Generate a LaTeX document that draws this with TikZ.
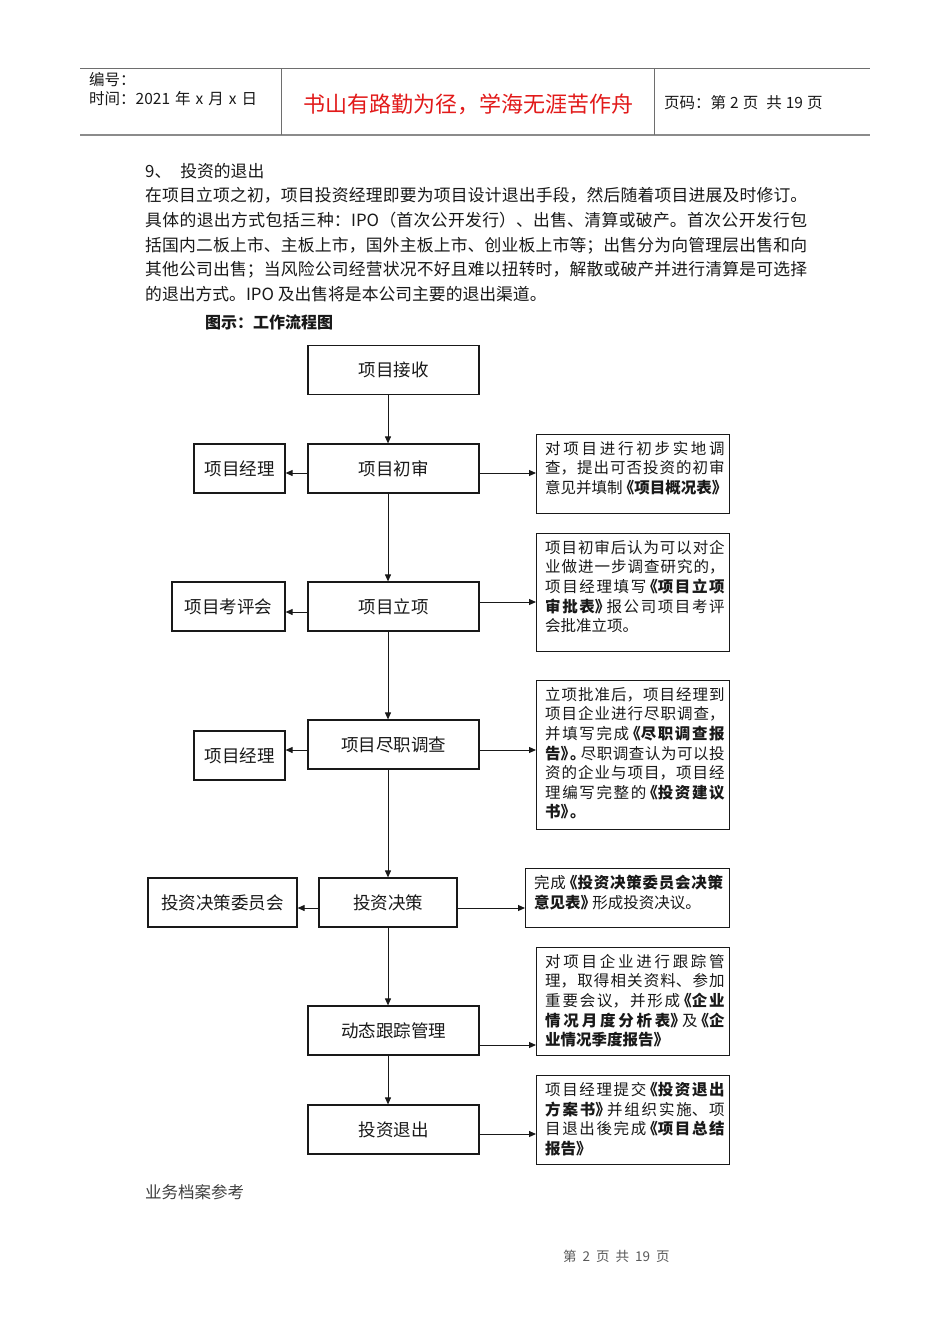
\documentclass[tikz,border=0pt]{standalone}
\usepackage{fontspec}
\setmainfont{Noto Sans CJK SC}
\usetikzlibrary{arrows.meta,calc}
\XeTeXlinebreaklocale "zh"
\XeTeXlinebreakskip=0pt plus 6pt
\definecolor{titlered}{RGB}{226,26,26}
\definecolor{ink}{RGB}{25,25,25}
\definecolor{rule}{RGB}{110,110,110}
\newcommand{\LB}{\kern-0.25em《}
\newcommand{\RB}{》\kern-0.25em}
\newcommand{\RBp}{》\kern-0.4em。\kern-0.3em}
\tikzset{
  mainbox/.style={draw=ink, line width=1.2pt, minimum width=171pt, minimum height=49pt,
    inner sep=0pt, font=\fontsize{17.5}{20}\selectfont, text=ink},
  rbox/.style={draw=ink, line width=1.2pt, anchor=north west, inner sep=0pt},
  rtext/.style={anchor=north west, inner sep=0pt, text width=179.5pt, align=justify,
    font=\fontsize{15.5}{19.6}\selectfont, text=ink},
  arr/.style={draw=ink, line width=1pt, -{Triangle[length=7pt,width=6pt]}},
  para/.style={anchor=north west, inner sep=0pt, text width=662pt, align=justify,
    font=\fontsize{16.8}{24.8}\selectfont, text=ink},
  plain/.style={anchor=west, inner sep=0pt, text=ink},
}
\begin{document}
\begin{tikzpicture}[x=1pt,y=-1pt]
\fill[white] (0,0) rectangle (950,1344);
\useasboundingbox (0,0) rectangle (950,1344);

% header
\draw[rule, line width=1pt] (80,68) -- (870,68);
\draw[rule!80, line width=2pt] (80,135) -- (870,135);
\draw[rule, line width=1pt] (281,68) -- (281,135);
\draw[rule, line width=1pt] (654,68) -- (654,135);
\node[plain, font=\fontsize{15.5}{18}\selectfont] (hno) at (89,80) {编号：};
\node[plain, font=\fontsize{15.5}{18}\selectfont] (htime) at (89,99) {时间：2021\hspace{5pt}年\hspace{5pt}x\hspace{5pt}月\hspace{5pt}x\hspace{5pt}日};
\node[inner sep=0pt, text=titlered, font=\fontsize{22}{26}\selectfont] (htitle) at (468,104) {书山有路勤为径，学海无涯苦作舟};
\node[plain, font=\fontsize{15.5}{18}\selectfont] (hpage) at (664,103) {页码：第\hspace{4pt}2\hspace{4pt}页\hspace{8pt}共\hspace{4pt}19\hspace{4pt}页};

% body text
\node[plain, font=\fontsize{16.8}{20}\selectfont] (sec) at (145,171) {9、\hspace{9pt}投资的退出};
\node[para] (par) at (145,187) {在项目立项之初，项目投资经理即要为项目设计退出手段，然后随着项目进展及时修订。\linebreak
具体的退出方式包括三种：IPO（首次公开发行）、出售、清算或破产。首次公开发行包\linebreak
括国内二板上市、主板上市，国外主板上市、创业板上市等；出售分为向管理层出售和向\linebreak
其他公司出售；当风险公司经营状况不好且难以扭转时，解散或破产并进行清算是可选择\linebreak
的退出方式。IPO 及出售将是本公司主要的退出渠道。};
\node[plain, font=\fontsize{16}{20}\selectfont\bfseries] (cap) at (205,322) {图示：工作流程图};

% main column
\node[mainbox] (recv) at (393.5,370) {项目接收};
\node[mainbox] (init) at (393.5,468.5) {项目初审};
\node[mainbox] (setup) at (393.5,606.5) {项目立项};
\node[mainbox] (dd) at (393.5,744.5) {项目尽职调查};
\node[mainbox, minimum width=138pt] (dec) at (388,902.5) {投资决策};
\node[mainbox] (track) at (393.5,1030.5) {动态跟踪管理};
\node[mainbox] (exit) at (393.5,1129.5) {投资退出};

% left boxes
\node[mainbox, minimum width=91pt] (pm1) at (239.5,468.5) {项目经理};
\node[mainbox, minimum width=113pt] (eval) at (228.5,606.5) {项目考评会};
\node[mainbox, minimum width=91pt] (pm2) at (239.5,755.5) {项目经理};
\node[mainbox, minimum width=149pt] (comm) at (222.5,902.5) {投资决策委员会};

% right boxes
\node[rbox, minimum width=193pt, minimum height=79pt] (r1) at (536,434) {};
\node[rbox, minimum width=193pt, minimum height=118pt] (r2) at (536,533) {};
\node[rbox, minimum width=193pt, minimum height=149pt] (r3) at (536,680) {};
\node[rbox, minimum width=204pt, minimum height=59pt] (r4) at (525,868) {};
\node[rbox, minimum width=193pt, minimum height=108pt] (r5) at (536,947) {};
\node[rbox, minimum width=193pt, minimum height=89pt] (r6) at (536,1075) {};

\node[rtext] (t1) at ($(r1.north west)+(9,7)$) {对项目进行初步实地调\linebreak
查，提出可否投资的初审\linebreak
意见并填制\textbf{\LB 项目概况表\RB}};
\node[rtext] (t2) at ($(r2.north west)+(9,7)$) {项目初审后认为可以对企\linebreak
业做进一步调查研究的，\linebreak
项目经理填写\textbf{\LB 项目立项}\linebreak
\textbf{审批表\RB}报公司项目考评\linebreak
会批准立项。};
\node[rtext] (t3) at ($(r3.north west)+(9,7)$) {立项批准后，项目经理到\linebreak
项目企业进行尽职调查，\linebreak
并填写完成\textbf{\LB 尽职调查报}\linebreak
\textbf{告\RBp}尽职调查认为可以投\linebreak
资的企业与项目，项目经\linebreak
理编写完整的\textbf{\LB 投资建议}\linebreak
\textbf{书\RBp}};
\node[rtext, text width=189pt] (t4) at ($(r4.north west)+(9,7)$) {完成\textbf{\LB 投资决策委员会决策}\linebreak
\textbf{意见表\RB}形成投资决议。};
\node[rtext] (t5) at ($(r5.north west)+(9,7)$) {对项目企业进行跟踪管\linebreak
理，取得相关资料、参加\linebreak
重要会议，并形成\textbf{\LB 企业}\linebreak
\textbf{情况月度分析表\RB}及\textbf{\LB 企}\linebreak
\textbf{业情况季度报告》}};
\node[rtext] (t6) at ($(r6.north west)+(9,7)$) {项目经理提交\textbf{\LB 投资退出}\linebreak
\textbf{方案书\RB}并组织实施、项\linebreak
目退出後完成\textbf{\LB 项目总结}\linebreak
\textbf{报告》}};

% connector guides
\coordinate (cx) at (388,0);
\coordinate (ly1) at (0,473);
\coordinate (ly2) at (0,612);
\coordinate (ly3) at (0,750);
\coordinate (ly4) at (0,908);
\coordinate (ry1) at (0,473);
\coordinate (ry2) at (0,602);
\coordinate (ry3) at (0,750);
\coordinate (ry4) at (0,908);
\coordinate (ry5) at (0,1045);
\coordinate (ry6) at (0,1134);

% vertical flow
\draw[arr] (recv.south -| cx) -- (init.north -| cx);
\draw[arr] (init.south -| cx) -- (setup.north -| cx);
\draw[arr] (setup.south -| cx) -- (dd.north -| cx);
\draw[arr] (dd.south -| cx) -- (dec.north -| cx);
\draw[arr] (dec.south -| cx) -- (track.north -| cx);
\draw[arr] (track.south -| cx) -- (exit.north -| cx);

% left arrows
\draw[arr] (init.west |- ly1) -- (pm1.east |- ly1);
\draw[arr] (setup.west |- ly2) -- (eval.east |- ly2);
\draw[arr] (dd.west |- ly3) -- (pm2.east |- ly3);
\draw[arr] (dec.west |- ly4) -- (comm.east |- ly4);

% right arrows
\draw[arr] (init.east |- ry1) -- (r1.west |- ry1);
\draw[arr] (setup.east |- ry2) -- (r2.west |- ry2);
\draw[arr] (dd.east |- ry3) -- (r3.west |- ry3);
\draw[arr] (dec.east |- ry4) -- (r4.west |- ry4);
\draw[arr] (track.east |- ry5) -- (r5.west |- ry5);
\draw[arr] (exit.east |- ry6) -- (r6.west |- ry6);

% footer
\node[plain, font=\fontsize{16.5}{20}\selectfont, text=black!75] (foot1) at (145,1192) {业务档案参考};
\node[plain, font=\fontsize{13.5}{16}\selectfont, text=black!65] (foot2) at (563,1256) {第\hspace{6pt}2\hspace{6pt}页\hspace{6pt}共\hspace{6pt}19\hspace{6pt}页};
\end{tikzpicture}
\end{document}
